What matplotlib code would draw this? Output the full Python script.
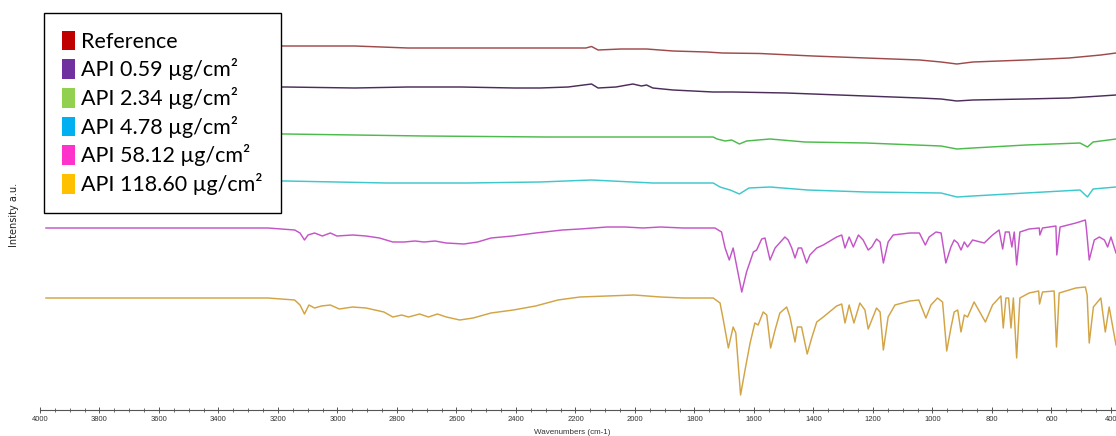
import matplotlib
matplotlib.use("Agg")
import matplotlib.pyplot as plt
from matplotlib.patches import Patch
from matplotlib.ticker import MultipleLocator

# ---- spectra: wavenumber (cm-1) and stacked intensity (a.u.) ----
wn_reference = [3980, 3175, 2942, 2763, 2477, 2319, 2262, 2165, 2146, 2124, 2047, 1961,
                1872, 1759, 1706, 1580, 1402, 1224, 1043, 971, 918, 864, 686, 541, 434, 383]
int_reference = [3.65, 3.64, 3.64, 3.62, 3.62, 3.62, 3.62, 3.62, 3.635, 3.60, 3.61, 3.61,
                 3.59, 3.58, 3.57, 3.565, 3.54, 3.52, 3.50, 3.48, 3.46, 3.48, 3.50, 3.52, 3.55, 3.57]

wn_api_059 = [3980, 3175, 2942, 2763, 2585, 2405, 2319, 2225, 2146, 2124, 2064, 2007, 1978,
              1961, 1940, 1872, 1738, 1671, 1491, 1224, 1043, 971, 918, 864, 686, 541, 434, 383]
int_api_059 = [3.23, 3.23, 3.22, 3.23, 3.23, 3.22, 3.22, 3.23, 3.26, 3.22, 3.23, 3.26, 3.24,
               3.25, 3.22, 3.20, 3.18, 3.18, 3.17, 3.14, 3.12, 3.11, 3.09, 3.10, 3.11, 3.12, 3.14, 3.15]

wn_api_234 = [3980, 3175, 2709, 2298, 1796, 1737, 1724, 1697, 1675, 1649, 1625, 1546, 1429,
              1224, 971, 918, 864, 686, 504, 479, 460, 383]
int_api_234 = [2.76, 2.76, 2.74, 2.73, 2.73, 2.73, 2.71, 2.69, 2.70, 2.66, 2.69, 2.71, 2.68,
               2.67, 2.64, 2.61, 2.62, 2.65, 2.67, 2.63, 2.68, 2.71]

wn_api_478 = [3980, 3175, 2835, 2566, 2319, 2146, 1940, 1737, 1714, 1692, 1680, 1649, 1617,
              1546, 1420, 1224, 971, 918, 864, 686, 504, 479, 460, 383]
int_api_478 = [2.29, 2.29, 2.27, 2.27, 2.28, 2.30, 2.27, 2.27, 2.23, 2.21, 2.20, 2.16, 2.22,
               2.23, 2.20, 2.18, 2.17, 2.13, 2.14, 2.17, 2.20, 2.13, 2.21, 2.23]

wn_api_5812 = [3980, 3355, 3234, 3144, 3126, 3111, 3099, 3077, 3051, 3024, 3002, 2949, 2904,
               2859, 2814, 2776, 2740, 2709, 2672, 2635, 2575, 2529, 2484, 2411, 2334, 2244,
               2185, 2094, 2034, 1973, 1914, 1839, 1782, 1731, 1709, 1697, 1683, 1670, 1641,
               1625, 1602, 1591, 1574, 1563, 1546, 1529, 1496, 1485, 1473, 1462, 1451, 1440,
               1423, 1412, 1389, 1367, 1322, 1305, 1294, 1280, 1266, 1249, 1233, 1216, 1204,
               1188, 1176, 1165, 1149, 1132, 1076, 1044, 1024, 1011, 988, 971, 955, 938, 927,
               915, 904, 893, 882, 865, 826, 798, 776, 764, 755, 742, 733, 725, 717, 706, 675,
               641, 639, 630, 585, 582, 571, 518, 486, 482, 473, 456, 439, 422, 411, 400, 383]
int_api_5812 = [1.82, 1.82, 1.82, 1.80, 1.77, 1.70, 1.75, 1.77, 1.74, 1.77, 1.74, 1.75, 1.74,
                1.72, 1.68, 1.68, 1.69, 1.68, 1.69, 1.67, 1.66, 1.68, 1.72, 1.74, 1.77, 1.80,
                1.81, 1.83, 1.83, 1.82, 1.83, 1.82, 1.82, 1.82, 1.78, 1.62, 1.50, 1.62, 1.18,
                1.38, 1.58, 1.60, 1.71, 1.72, 1.50, 1.62, 1.73, 1.70, 1.62, 1.52, 1.62, 1.62,
                1.47, 1.55, 1.62, 1.65, 1.73, 1.75, 1.62, 1.73, 1.63, 1.75, 1.70, 1.60, 1.63,
                1.71, 1.68, 1.47, 1.68, 1.75, 1.77, 1.77, 1.65, 1.73, 1.78, 1.77, 1.47, 1.63, 1.70,
                1.67, 1.60, 1.68, 1.63, 1.70, 1.67, 1.75, 1.80, 1.61, 1.78, 1.78, 1.63, 1.78, 1.45,
                1.78, 1.81, 1.82, 1.75, 1.82, 1.84, 1.55, 1.83, 1.87, 1.90, 1.80, 1.50, 1.70, 1.73,
                1.70, 1.63, 1.73, 1.57]

wn_api_11860 = [3980, 3355, 3234, 3144, 3126, 3111, 3096, 3077, 3054, 3024, 2994, 2949, 2904,
                2844, 2814, 2784, 2761, 2724, 2694, 2664, 2634, 2589, 2544, 2484, 2409, 2334,
                2259, 2185, 2094, 2003, 1914, 1839, 1782, 1737, 1714, 1703, 1686, 1670, 1661,
                1645, 1630, 1613, 1597, 1586, 1569, 1557, 1544, 1529, 1513, 1490, 1479, 1462,
                1454, 1440, 1421, 1406, 1389, 1367, 1322, 1305, 1294, 1280, 1264, 1244, 1227,
                1216, 1204, 1188, 1176, 1165, 1149, 1126, 1076, 1046, 1022, 1005, 983, 966, 952,
                938, 927, 915, 904, 893, 882, 860, 822, 798, 770, 762, 753, 744, 736, 728, 717,
                706, 675, 643, 640, 630, 591, 583, 574, 518, 486, 480, 473, 459, 434, 419, 406, 383]
int_api_11860 = [1.12, 1.12, 1.12, 1.10, 1.05, 0.96, 1.05, 1.02, 1.04, 1.05, 1.01, 1.03, 1.02,
                 0.98, 0.93, 0.95, 0.93, 0.96, 0.93, 0.96, 0.93, 0.90, 0.92, 0.97, 1.00, 1.04,
                 1.10, 1.13, 1.14, 1.15, 1.13, 1.12, 1.12, 1.12, 1.07, 0.90, 0.62, 0.83, 0.77,
                 0.15, 0.40, 0.67, 0.87, 0.85, 0.98, 0.95, 0.62, 0.80, 0.97, 1.03, 0.93, 0.68,
                 0.83, 0.83, 0.56, 0.72, 0.88, 0.93, 1.04, 1.06, 0.87, 1.05, 0.87, 1.07, 1.00,
                 0.81, 0.90, 1.02, 0.98, 0.60, 0.93, 1.05, 1.09, 1.10, 0.92, 1.05, 1.12, 1.08, 0.59,
                 0.82, 0.98, 1.00, 0.78, 0.95, 0.93, 1.08, 0.88, 1.05, 1.14, 0.82, 1.12, 1.12, 0.82,
                 1.12, 0.52, 1.12, 1.17, 1.19, 1.06, 1.18, 1.19, 0.63, 1.17, 1.22, 1.23, 1.15, 0.67,
                 1.03, 1.12, 0.78, 1.03, 0.65]

labels = ["Reference", "API 0.59 µg/cm²", "API 2.34 µg/cm²", "API 4.78 µg/cm²",
          "API 58.12 µg/cm²", "API 118.60 µg/cm²"]
legend_colors = ["#C00000", "#7030A0", "#92D050", "#00B0F0", "#FF33CC", "#FFC000"]
line_colors = ["#9E4A4A", "#4B2D5A", "#4CBB4C", "#3CC8CC", "#C455C8", "#D2A445"]

series = [(wn_reference, int_reference), (wn_api_059, int_api_059),
          (wn_api_234, int_api_234), (wn_api_478, int_api_478),
          (wn_api_5812, int_api_5812), (wn_api_11860, int_api_11860)]

W, H = 1116, 436
fig = plt.figure(figsize=(W / 100, H / 100), dpi=100)
ax = fig.add_axes([40 / W, 26 / H, 1076 / W, 410 / H])

for (x, y), c in zip(series, line_colors):
    ax.plot(x, y, color=c, lw=1.05, solid_joinstyle="round")

ax.set_xlim(4000, 383)
ax.set_ylim(0, 4.10)
for s in ("left", "right", "top"):
    ax.spines[s].set_visible(False)
ax.spines["bottom"].set_color("#555555")
ax.spines["bottom"].set_linewidth(0.8)
ax.set_yticks([])
ax.xaxis.set_major_locator(MultipleLocator(200))
ax.xaxis.set_minor_locator(MultipleLocator(50))
ax.tick_params(axis="x", which="major", direction="inout", length=5, width=0.7,
               color="#555555", labelsize=5.5, labelcolor="#333333", pad=2)
ax.tick_params(axis="x", which="minor", direction="inout", length=2.5, width=0.6,
               color="#555555")
for lab in ax.get_xticklabels():
    lab.set_fontfamily("Liberation Sans")

fig.text(572 / W, 1 - 432 / H, "Wavenumbers (cm-1)", ha="center", va="center",
         fontsize=5.8, color="#333333", family="Liberation Sans")
fig.text(14 / W, 1 - 215 / H, "Intensity a.u.", ha="center", va="center",
         rotation=90, fontsize=7, color="#222222")

handles = [Patch(facecolor=c, edgecolor="none") for c in legend_colors]
leg = ax.legend(handles, labels, loc="upper left",
                bbox_to_anchor=(44 / W, 1 - 13 / H), bbox_transform=fig.transFigure,
                borderaxespad=0, fancybox=False, framealpha=1, edgecolor="black",
                prop={"family": "Lato", "size": 15.5}, handlelength=0.6,
                handleheight=1.02, handletextpad=0.32, labelspacing=0.31,
                borderpad=0.82)
leg.get_frame().set_linewidth(1.0)

fig.savefig("out.png", dpi=100)
